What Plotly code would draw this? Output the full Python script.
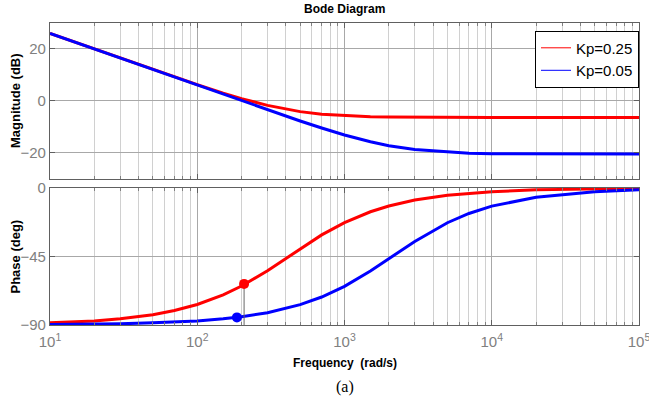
import plotly.graph_objects as go
from plotly.subplots import make_subplots

# Frequency samples (rad/s)
freq = [10, 20, 30, 50, 70, 100, 150, 200, 300, 500, 700, 1000, 1500, 2000,
        3000, 5000, 7000, 10000, 20000, 50000, 100000]

# Magnitude (dB)
mag_kp025 = [26.0, 20.0, 16.5, 12.1, 9.2, 6.3, 3.0, 0.9, -1.7, -4.1, -5.1, -5.7, -6.1, -6.2,
             -6.3, -6.4, -6.4, -6.4, -6.4, -6.4, -6.4]
mag_kp005 = [26.0, 20.0, 16.5, 12.0, 9.1, 6.0, 2.5, 0.0, -3.4, -7.7, -10.4, -13.1, -15.7, -17.2,
             -18.7, -19.7, -20.1, -20.3, -20.4, -20.4, -20.4]

# Phase (deg)
ph_kp025 = [-88.6, -87.3, -85.9, -83.2, -80.5, -76.5, -70.2, -64.4, -54.3, -39.9, -30.8, -22.7,
            -15.6, -11.8, -7.9, -4.8, -3.4, -2.4, -1.2, -0.5, -0.2]
ph_kp005 = [-89.7, -89.5, -89.2, -88.6, -88.1, -87.3, -85.9, -84.6, -81.9, -76.6, -71.6, -64.6,
            -54.5, -46.5, -35.1, -22.8, -16.7, -11.9, -6.0, -2.4, -1.2]

# Data-tip markers
tip_freq = [208, 186]
tip_phase = [-63.0, -85.0]

names = ["Kp=0.25", "Kp=0.05"]
colors = ["#ff0000", "#0000ff"]

x_tickvals = [10, 100, 1000, 10000, 100000]
x_ticktext = ["10<sup>1</sup>", "10<sup>2</sup>", "10<sup>3</sup>", "10<sup>4</sup>", "10<sup>5</sup>"]
mag_ticks = [-20, 0, 20]
ph_ticks = [-90, -45, 0]

fig = make_subplots(rows=2, cols=1, shared_xaxes=False, vertical_spacing=0.03,
                    row_heights=[156, 137])

for m, c in zip([mag_kp025, mag_kp005], colors):
    fig.add_trace(go.Scatter(x=freq, y=m, mode="lines", line=dict(color=c, width=3),
                             showlegend=False, hoverinfo="skip"), row=1, col=1)
for p, c in zip([ph_kp025, ph_kp005], colors):
    fig.add_trace(go.Scatter(x=freq, y=p, mode="lines", line=dict(color=c, width=3),
                             showlegend=False, hoverinfo="skip"), row=2, col=1)

# data tip vertical line for the red marker
fig.add_trace(go.Scatter(x=[tip_freq[0], tip_freq[0]], y=[tip_phase[0], -90], mode="lines",
                         line=dict(color="#666666", width=1), showlegend=False), row=2, col=1)
for f, p, c in zip(tip_freq, tip_phase, colors):
    fig.add_trace(go.Scatter(x=[f], y=[p], mode="markers", marker=dict(color=c, size=10),
                             showlegend=False), row=2, col=1)

# legend entries (thin lines)
for n, c in zip(names, colors):
    fig.add_trace(go.Scatter(x=[None], y=[None], mode="lines", line=dict(color=c, width=1),
                             name=n), row=1, col=1)

tickfont = dict(family="Arial", size=15, color="#808080")
axis_common = dict(showline=True, linecolor="#606060", linewidth=1.2, mirror="ticks",
                   ticks="inside", ticklen=5, tickcolor="#606060", tickfont=tickfont,
                   showgrid=True, gridcolor="#a8a8a8", gridwidth=1, zeroline=False,
                   automargin=False)

xaxis_common = dict(axis_common, type="log", range=[1, 5.00002], tickvals=x_tickvals,
                    ticktext=x_ticktext,
                    minor=dict(dtick="D1", showgrid=True, gridcolor="#d0d0d0", gridwidth=1,
                               ticks="inside", ticklen=3, tickcolor="#808080"))

fig.update_xaxes(**xaxis_common, showticklabels=False, row=1, col=1)
fig.update_xaxes(**xaxis_common, showticklabels=True, ticklabelstandoff=3,
                 ticklabeloverflow="allow", row=2, col=1)
fig.update_yaxes(**axis_common, range=[-30, 30], tickvals=mag_ticks, row=1, col=1)
fig.update_yaxes(**axis_common, range=[-90, 0], tickvals=ph_ticks, row=2, col=1)

fig.update_layout(
    width=649, height=403,
    margin=dict(l=50, r=10, t=23, b=78),
    paper_bgcolor="white", plot_bgcolor="white",
    font=dict(family="Arial", color="black"),
    legend=dict(x=1, xanchor="right", y=0.975, yanchor="top", bgcolor="white",
                bordercolor="black", borderwidth=1, font=dict(size=15, color="black"),
                itemwidth=30, tracegroupgap=0),
    annotations=[
        dict(text="<b>Bode Diagram</b>", x=0.5, y=1, yref="paper", xref="paper",
             xanchor="center", yanchor="bottom", yshift=5, showarrow=False,
             font=dict(size=12, color="black")),
        dict(text="<b>Magnitude (dB)</b>", x=-0.0594, xref="paper", y=0.7417, yref="paper",
             xanchor="center", yanchor="middle",
             textangle=-90, showarrow=False, font=dict(size=13, color="black")),
        dict(text="<b>Phase (deg)</b>", x=-0.0594, xref="paper", y=0.2268, yref="paper",
             xanchor="center", yanchor="middle",
             textangle=-90, showarrow=False, font=dict(size=13, color="black")),
        dict(text="<b>Frequency  (rad/s)</b>", x=0.5, xref="paper", y=-0.126, yref="paper",
             xanchor="center", yanchor="middle",
             showarrow=False, font=dict(size=12, color="black")),
        dict(text="(a)", x=0.5, xref="paper", y=-0.205, yref="paper",
             xanchor="center", yanchor="middle",
             showarrow=False, font=dict(family="Times New Roman, Liberation Serif", size=16,
                                        color="black")),
    ],
)

fig.write_html("out.html")
